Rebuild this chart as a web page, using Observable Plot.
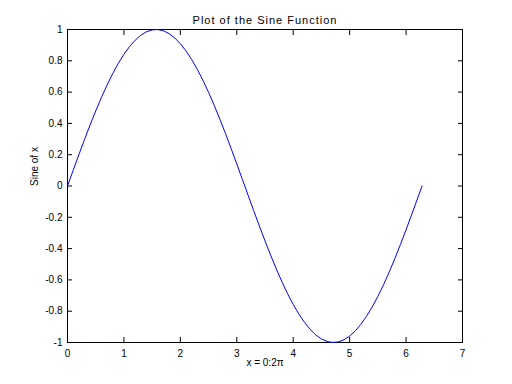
<!DOCTYPE html>
<html>
<head>
<meta charset="utf-8">
<script src="https://cdn.jsdelivr.net/npm/d3@7"></script>
<script src="https://cdn.jsdelivr.net/npm/@observablehq/plot@0.6"></script>
<style>
  html, body { margin: 0; padding: 0; background: #fff; }
</style>
</head>
<body>
<div id="chart"></div>
<script>
const xs = [0,0.1,0.2,0.3,0.4,0.5,0.6,0.7,0.8,0.9,1.0,1.1,1.2,1.3,1.4,1.5,1.6,1.7,1.8,1.9,2.0,2.1,2.2,2.3,2.4,2.5,2.6,2.7,2.8,2.9,3.0,3.1,3.2,3.3,3.4,3.5,3.6,3.7,3.8,3.9,4.0,4.1,4.2,4.3,4.4,4.5,4.6,4.7,4.8,4.9,5.0,5.1,5.2,5.3,5.4,5.5,5.6,5.7,5.8,5.9,6.0,6.1,6.2,6.283];
const ys = [0,0.0998,0.1987,0.2955,0.3894,0.4794,0.5646,0.6442,0.7174,0.7833,0.8415,0.8912,0.9320,0.9636,0.9854,0.9975,0.9996,0.9917,0.9738,0.9463,0.9093,0.8632,0.8085,0.7457,0.6755,0.5985,0.5155,0.4274,0.3350,0.2392,0.1411,0.0416,-0.0584,-0.1577,-0.2555,-0.3508,-0.4425,-0.5298,-0.6119,-0.6878,-0.7568,-0.8183,-0.8716,-0.9162,-0.9516,-0.9775,-0.9937,-0.9999,-0.9962,-0.9825,-0.9589,-0.9258,-0.8835,-0.8323,-0.7728,-0.7055,-0.6313,-0.5507,-0.4646,-0.3739,-0.2794,-0.1822,-0.0831,0];
const xTicks = [0,1,2,3,4,5,6,7];
const yTicks = [-1,-0.8,-0.6,-0.4,-0.2,0,0.2,0.4,0.6,0.8,1];
const titleText = "Plot of the Sine Function";
const xLabel = "x = 0:2\u03C0";
const yLabel = "Sine of x";

const data = xs.map((x, i) => ({x, y: ys[i]}));

const chart = Plot.plot({
  width: 512,
  height: 384,
  marginLeft: 67,
  marginRight: 50,
  marginTop: 29,
  marginBottom: 42,
  style: {fontFamily: "Liberation Sans, Helvetica, Arial, sans-serif", fontSize: "10px", background: "#fff", color: "#000"},
  x: {domain: [0, 7]},
  y: {domain: [-1, 1]},
  marks: [
    Plot.frame({stroke: "#000", strokeWidth: 1}),
    Plot.axisX({ticks: xTicks, anchor: "bottom", tickSize: -5, tickPadding: 12, label: null, tickFormat: d => String(d), fontSize: 10}),
    Plot.axisX({ticks: xTicks, anchor: "top", tickSize: -5, text: null, label: null}),
    Plot.axisY({ticks: yTicks, anchor: "left", tickSize: -5, tickPadding: 10, label: null, tickFormat: d => String(d), fontSize: 10}),
    Plot.axisY({ticks: yTicks, anchor: "right", tickSize: -5, text: null, label: null}),
    Plot.line(data, {x: "x", y: "y", stroke: "#0000ff", strokeWidth: 1}),
    Plot.text([titleText], {frameAnchor: "top", dy: -13, fontSize: 11, fill: "#000"}),
    Plot.text([xLabel], {frameAnchor: "bottom", dy: 23, fontSize: 10, fill: "#000"}),
    Plot.text([yLabel], {frameAnchor: "left", dx: -33, rotate: -90, fontSize: 10, fill: "#000"})
  ]
});
d3.select(chart).selectAll("text")
  .filter(function() { return this.textContent === titleText; })
  .attr("letter-spacing", "1px");
document.getElementById("chart").appendChild(chart);
</script>
</body>
</html>
